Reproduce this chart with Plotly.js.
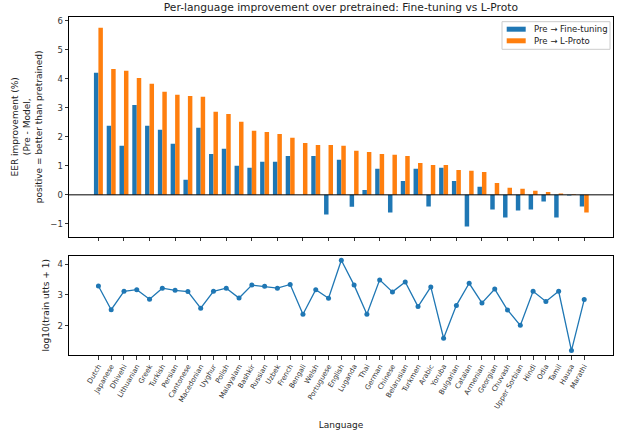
<!DOCTYPE html>
<html>
<head>
<meta charset="utf-8">
<script src="https://cdn.plot.ly/plotly-3.0.1.min.js"></script>
<style>html,body{margin:0;padding:0;background:#fff;}#chart{width:621px;height:432px;}</style>
</head>
<body>
<div id="chart"></div>
<script>
const languages = ["Dutch","Japanese","Dhivehi","Lithuanian","Greek","Turkish","Persian","Cantonese","Macedonian","Uyghur","Polish","Malayalam","Bashkir","Russian","Uzbek","French","Bengali","Welsh","Portuguese","English","Luganda","Thai","German","Chinese","Belarusian","Turkmen","Arabic","Yoruba","Bulgarian","Catalan","Armenian","Georgian","Chuvash","Upper Sorbian","Hindi","Odia","Tamil","Hausa","Marathi"];
const fineTuning = [4.21,2.38,1.69,3.10,2.38,2.24,1.76,0.52,2.31,1.41,1.59,1.00,0.93,1.14,1.14,1.34,0.00,1.34,-0.68,1.21,-0.41,0.17,0.90,-0.61,0.48,0.90,-0.40,0.93,0.48,-1.09,0.28,-0.51,-0.78,-0.54,-0.51,-0.23,-0.78,-0.02,-0.40];
const lProto = [5.76,4.34,4.28,4.03,3.83,3.55,3.45,3.41,3.38,2.86,2.79,2.52,2.21,2.17,2.10,1.97,1.79,1.72,1.72,1.69,1.52,1.48,1.41,1.38,1.34,1.10,1.03,1.03,0.86,0.83,0.79,0.41,0.24,0.21,0.14,0.10,0.05,0.02,-0.61];
const logTrainUtts = [3.29,2.52,3.12,3.17,2.86,3.22,3.15,3.11,2.57,3.12,3.22,2.90,3.32,3.28,3.22,3.34,2.37,3.17,2.89,4.13,3.32,2.37,3.49,3.10,3.42,2.62,3.26,1.59,2.66,3.38,2.74,3.19,2.51,2.01,3.12,2.79,3.12,1.19,2.85];
const seriesNames = ["Pre \u2192 Fine-tuning", "Pre \u2192 L-Proto"];

const FONT = "DejaVu Sans, sans-serif";
const blue = "#1f77b4", orange = "#ff7f0e";

// pixel -> paper helpers (margins l=69, r=8, t=17, b=77)
const W = 621, H = 432, ML = 69, MR = 8, MT = 17, MB = 77;
const px = v => (v - ML) / (W - ML - MR);
const py = v => (H - MB - v) / (H - MT - MB);

const traces = [
  {type:"bar", x:languages, y:fineTuning, name:seriesNames[0], marker:{color:blue}, xaxis:"x", yaxis:"y"},
  {type:"bar", x:languages, y:lProto, name:seriesNames[1], marker:{color:orange}, xaxis:"x", yaxis:"y"},
  {type:"scatter", mode:"lines+markers", x:languages, y:logTrainUtts, line:{color:blue, width:1.3}, marker:{color:blue, size:5}, xaxis:"x2", yaxis:"y2"}
];

const axCommon = {showline:true, linecolor:"#000", linewidth:1, mirror:true, ticks:"outside", ticklen:3.5, tickwidth:0.8, tickcolor:"#000", showgrid:false, zeroline:false, tickfont:{family:FONT, size:8.5, color:"#333"}};

const legendShapes = [
  {type:"rect", xref:"paper", yref:"paper", x0:px(502), x1:px(610), y0:py(49.3), y1:py(21.7), line:{color:"#cccccc", width:1}, fillcolor:"rgba(255,255,255,0.8)", layer:"above"},
  {type:"rect", xref:"paper", yref:"paper", x0:px(506.7), x1:px(525.7), y0:py(31.7), y1:py(26.7), line:{width:0}, fillcolor:blue, layer:"above"},
  {type:"rect", xref:"paper", yref:"paper", x0:px(506.7), x1:px(525.7), y0:py(43.3), y1:py(38.3), line:{width:0}, fillcolor:orange, layer:"above"}
];
const legendLabels = [
  {xref:"paper", yref:"paper", x:px(531.5), y:py(29.2), xanchor:"left", yanchor:"middle", showarrow:false, text:seriesNames[0], font:{family:FONT, size:8.5, color:"#222"}},
  {xref:"paper", yref:"paper", x:px(531.5), y:py(40.8), xanchor:"left", yanchor:"middle", showarrow:false, text:seriesNames[1], font:{family:FONT, size:8.5, color:"#222"}}
];

const layout = {
  width:W, height:H,
  margin:{l:ML, r:MR, t:MT, b:MB, pad:0},
  paper_bgcolor:"#fff", plot_bgcolor:"#fff",
  font:{family:FONT, color:"#222"},
  title:{text:"Per-language improvement over pretrained: Fine-tuning vs L-Proto", font:{family:FONT, size:10.7, color:"#222"}, x:0.549, xanchor:"center", y:0.984, yanchor:"middle"},
  barmode:"group", bargap:0.3, bargroupgap:0,
  showlegend:false,
  xaxis:Object.assign({}, axCommon, {domain:[0,1], range:[-2.3,40.25], anchor:"y", showticklabels:false, matches:"x2", type:"category"}),
  yaxis:Object.assign({}, axCommon, {domain:[0.3503,1], range:[-1.44,6.13], tickvals:[-1,0,1,2,3,4,5,6], ticktext:["\u22121","0","1","2","3","4","5","6"], title:{text:"EER improvement (%)<br>(Pre - Model,<br>positive = better than pretrained)", font:{family:FONT, size:9, color:"#222"}, standoff:6}}),
  xaxis2:Object.assign({}, axCommon, {domain:[0,1], range:[-2.3,40.25], anchor:"y2", type:"category", tickangle:-60, tickfont:{family:FONT, size:7, color:"#333"}, title:{text:"Language", font:{family:FONT, size:9, color:"#222"}, standoff:12}}),
  yaxis2:Object.assign({}, axCommon, {domain:[0,0.294], range:[1.045,4.28], tickvals:[2,3,4], title:{text:"log10(train utts + 1)", font:{family:FONT, size:9, color:"#222"}, standoff:6}}),
  shapes:[{type:"line", xref:"x domain", x0:0, x1:1, yref:"y", y0:0, y1:0, line:{color:"#000", width:1}, layer:"above"}].concat(legendShapes),
  annotations:legendLabels
};

Plotly.newPlot("chart", traces, layout, {displayModeBar:false, staticPlot:true});
</script>
</body>
</html>
